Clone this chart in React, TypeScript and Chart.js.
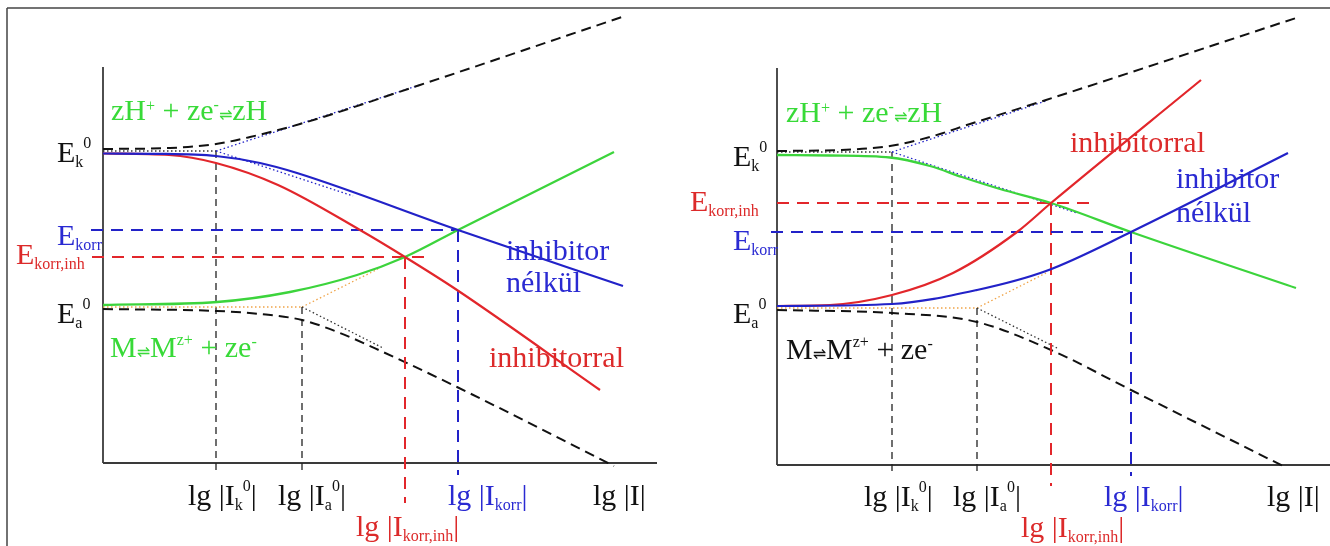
import React, { useEffect, useRef } from "react";
import { Chart, registerables } from "chart.js";
Chart.register(...registerables);

type XY = number[][];
type Part = [string, string, number?];

// Colours
const GREEN = "#3cd43c";
const RED = "#e2262b";
const BLUE = "#2222c8";
const BLACK = "#111111";
const ORANGE = "#f0a448";
const AXIS = "#3a3a3a";
const GREEN_T = "#38da38";
const RED_T = "#dc2a2a";
const BLUE_T = "#2a2ad2";

// ---------------- LEFT PANEL (units: lg|I| to the right, E upward) ----------------
const L_frameLeft: XY = [[-96, 455], [-96, -83]];
const L_frameTop: XY = [[-96, 455], [562, 455]];
const L_axisY: XY = [[0, 0], [0, 396]];
const L_axisX: XY = [[0, 0], [554, 0]];
const L_hTop: XY = [[0, 314], [67, 315], [113, 319], [147, 326], [197, 339], [317, 378], [519, 446]];
const L_hCath: XY = [[0, 309.5], [57, 309.2], [113, 307], [157, 300], [194, 290], [355, 233], [520, 177]];
const L_hCathInh: XY = [[0, 309.5], [66, 308], [113, 300], [175, 278], [257, 233], [302, 206], [354, 173], [497, 73]];
const L_mAnod: XY = [[0, 158], [114, 161], [187, 171], [254, 188], [302, 206], [355, 233], [511, 311]];
const L_mBottom: XY = [[0, 154], [114, 152], [157, 149], [199, 143], [237, 130], [280, 111], [354, 76], [511, -3]];
const L_EkorrH: XY = [[-12, 233], [355, 233]];
const L_EkorrV: XY = [[355, 233], [355, -12]];
const L_EinhH: XY = [[-11, 206], [323, 206]];
const L_EinhV: XY = [[302, 206], [302, -40]];
const L_Ik0V: XY = [[113, 312], [113, -10]];
const L_Ia0V: XY = [[199, 156], [199, -10]];
const L_EkDot: XY = [[0, 312], [113, 312]];
const L_tafelUp: XY = [[113, 312], [317, 378]];
const L_tafelDown: XY = [[113, 312], [250, 267]];
const L_EaDot: XY = [[0, 156], [199, 156]];
const L_tafelAnod: XY = [[199, 156], [275, 194]];
const L_tafelMDown: XY = [[199, 156], [280, 115]];

// ---------------- RIGHT PANEL ----------------
const R_frameTop: XY = [[-112, 457], [553, 457]];
const R_axisY: XY = [[0, 0], [0, 397]];
const R_axisX: XY = [[0, 0], [553, 0]];
const R_hTop: XY = [[0, 314], [63, 315], [113, 319], [153, 328], [193, 341], [269, 365], [519, 447]];
const R_hCath: XY = [[0, 310], [53, 309.5], [113, 307.5], [153, 299], [185, 288], [223, 276], [274, 262], [354, 233], [519, 177]];
const R_mAnodInh: XY = [[0, 159], [53, 160], [115, 170], [176, 192], [240, 233], [274, 262], [424, 385]];
const R_mAnod: XY = [[0, 159], [115, 161], [200, 175], [269, 194], [354, 233], [511, 312]];
const R_mBottom: XY = [[0, 155], [115, 152], [200, 143], [274, 115], [354, 75], [508, -2]];
const R_EkorrH: XY = [[-6, 233], [354, 233]];
const R_EkorrV: XY = [[354, 233], [354, -11]];
const R_EinhH: XY = [[0, 262], [320, 262]];
const R_EinhV: XY = [[274, 262], [274, -21]];
const R_Ik0V: XY = [[115, 313], [115, -10]];
const R_Ia0V: XY = [[200, 157], [200, -10]];
const R_EkDot: XY = [[0, 313], [115, 313]];
const R_tafelUp: XY = [[115, 313], [269, 364]];
const R_tafelDown: XY = [[115, 313], [300, 252]];
const R_EaDot: XY = [[0, 157], [200, 157]];
const R_tafelAnod: XY = [[200, 157], [269, 192]];
const R_tafelMDown: XY = [[200, 157], [280, 117]];

// ---------------- TEXTS ----------------
const T_H: Part[] = [["zH", "n"], ["+", "p", -9], [" + ze", "n"], ["-", "p", -10], ["\u21CC", "a"], ["zH", "n"]];
const T_M: Part[] = [["M", "n"], ["\u21CC", "a"], ["M", "n"], ["z+", "p", -12], [" + ze", "n"], ["-", "p", -10]];
const T_Ek0: Part[] = [["E", "n"], ["k", "b"], ["0", "p", -14]];
const T_Ea0: Part[] = [["E", "n"], ["a", "b"], ["0", "p", -14]];
const T_Ekorr: Part[] = [["E", "n"], ["korr", "b"]];
const T_Einh: Part[] = [["E", "n"], ["korr,inh", "b"]];
const T_inh1: Part[] = [["inhibitor", "n"]];
const T_inh2: Part[] = [["n\u00E9lk\u00FCl", "n"]];
const T_inhral: Part[] = [["inhibitorral", "n"]];
const T_lgIk0: Part[] = [["lg |I", "n"], ["k", "b"], ["0", "p", -14], ["|", "n"]];
const T_lgIa0: Part[] = [["lg |I", "n"], ["a", "b"], ["0", "p", -14], ["|", "n"]];
const T_lgIkorr: Part[] = [["lg |I", "n"], ["korr", "b"], ["|", "n"]];
const T_lgIinh: Part[] = [["lg |I", "n"], ["korr,inh", "b"], ["|", "n"]];
const T_lgI: Part[] = [["lg |I|", "n"]];

type Label = { x: number; y: number; color: string; parts: Part[] };

const L_labels: Label[] = [
  { x: 8, y: 343, color: GREEN_T, parts: T_H },
  { x: -46, y: 301, color: BLACK, parts: T_Ek0 },
  { x: -46, y: 218, color: BLUE_T, parts: T_Ekorr },
  { x: -87, y: 199, color: RED_T, parts: T_Einh },
  { x: -46, y: 140, color: BLACK, parts: T_Ea0 },
  { x: 7, y: 106, color: GREEN_T, parts: T_M },
  { x: 403, y: 203, color: BLUE_T, parts: T_inh1 },
  { x: 403, y: 171, color: BLUE_T, parts: T_inh2 },
  { x: 386, y: 96, color: RED_T, parts: T_inhral },
  { x: 85, y: -42, color: BLACK, parts: T_lgIk0 },
  { x: 175, y: -42, color: BLACK, parts: T_lgIa0 },
  { x: 345, y: -42, color: BLUE_T, parts: T_lgIkorr },
  { x: 490, y: -42, color: BLACK, parts: T_lgI },
  { x: 253, y: -73, color: RED_T, parts: T_lgIinh },
];

const R_labels: Label[] = [
  { x: 9, y: 343, color: GREEN_T, parts: T_H },
  { x: -44, y: 299, color: BLACK, parts: T_Ek0 },
  { x: -87, y: 254, color: RED_T, parts: T_Einh },
  { x: -44, y: 215, color: BLUE_T, parts: T_Ekorr },
  { x: -44, y: 142, color: BLACK, parts: T_Ea0 },
  { x: 9, y: 106, color: BLACK, parts: T_M },
  { x: 293, y: 313, color: RED_T, parts: T_inhral },
  { x: 399, y: 277, color: BLUE_T, parts: T_inh1 },
  { x: 399, y: 243, color: BLUE_T, parts: T_inh2 },
  { x: 87, y: -41, color: BLACK, parts: T_lgIk0 },
  { x: 176, y: -41, color: BLACK, parts: T_lgIa0 },
  { x: 327, y: -41, color: BLUE_T, parts: T_lgIkorr },
  { x: 490, y: -41, color: BLACK, parts: T_lgI },
  { x: 244, y: -72, color: RED_T, parts: T_lgIinh },
];

// ---------------- helpers ----------------
type Sty = { c: string; w: number; d?: number[]; s?: boolean };
const FRAME: Sty = { c: "#444", w: 1.5 };
const AX: Sty = { c: AXIS, w: 1.8 };
const VDASH: Sty = { c: "#222", w: 1.3, d: [7, 5] };
const DOT_K: Sty = { c: "#333", w: 1.3, d: [1.5, 2.5] };
const DOT_B: Sty = { c: BLUE, w: 1.3, d: [1.5, 2.5] };
const DOT_O: Sty = { c: ORANGE, w: 1.3, d: [1.5, 2.5] };
const BDASH: Sty = { c: BLACK, w: 2, d: [10, 6], s: true };
const DASH_R: Sty = { c: RED, w: 2, d: [12, 8] };
const DASH_B: Sty = { c: BLUE, w: 2, d: [12, 8] };
const CUR_G: Sty = { c: GREEN, w: 2.3, s: true };
const CUR_R: Sty = { c: RED, w: 2.2, s: true };
const CUR_B: Sty = { c: BLUE, w: 2.2, s: true };

function makeDatasets(list: [XY, Sty][]) {
  const n = list.length;
  return list.map(([arr, st], i) => ({
    data: arr.map(([x, y]) => ({ x, y })),
    borderColor: st.c,
    borderWidth: st.w,
    borderDash: st.d || [],
    pointRadius: 0,
    fill: false,
    tension: st.s ? 0.4 : 0,
    cubicInterpolationMode: st.s ? "monotone" : "default",
    clip: false as any,
    order: n - i,
  }));
}

function richPlugin(items: Label[]) {
  return {
    id: "richLabels",
    afterDatasetsDraw(chart: any) {
      const ctx: CanvasRenderingContext2D = chart.ctx;
      const xs = chart.scales.x;
      const ys = chart.scales.y;
      ctx.save();
      ctx.textBaseline = "alphabetic";
      ctx.textAlign = "left";
      for (const it of items) {
        let cx = xs.getPixelForValue(it.x);
        const by = ys.getPixelForValue(it.y);
        ctx.fillStyle = it.color;
        for (const [t, k, dy] of it.parts) {
          let font = '30px "Liberation Serif", "Times New Roman", serif';
          let off = 0;
          if (k === "b") { font = '16px "Liberation Serif", serif'; off = 5; }
          else if (k === "p") { font = '16px "Liberation Serif", serif'; off = -11; }
          else if (k === "a") { font = '16px "DejaVu Sans", sans-serif'; off = 0; }
          if (dy !== undefined) off = dy;
          ctx.font = font;
          ctx.fillText(t, cx, by + off);
          cx += ctx.measureText(t).width;
        }
      }
      ctx.restore();
    },
  };
}

type PanelCfg = { xmin: number; xmax: number; ymin: number; ymax: number; lines: [XY, Sty][]; labels: Label[] };

const LEFT: PanelCfg = {
  xmin: -103, xmax: 562, ymin: -83, ymax: 463,
  lines: [
    [L_frameLeft, FRAME], [L_frameTop, FRAME],
    [L_axisY, AX], [L_axisX, AX],
    [L_Ik0V, VDASH], [L_Ia0V, VDASH],
    [L_EkDot, DOT_K], [L_tafelUp, DOT_B], [L_tafelDown, DOT_B],
    [L_EaDot, DOT_O], [L_tafelAnod, DOT_O], [L_tafelMDown, DOT_K],
    [L_hTop, BDASH], [L_mBottom, BDASH],
    [L_EinhH, DASH_R], [L_EinhV, DASH_R], [L_EkorrH, DASH_B], [L_EkorrV, DASH_B],
    [L_mAnod, CUR_G], [L_hCathInh, CUR_R], [L_hCath, CUR_B],
  ],
  labels: L_labels,
};

const RIGHT: PanelCfg = {
  xmin: -112, xmax: 553, ymin: -81, ymax: 465,
  lines: [
    [R_frameTop, FRAME],
    [R_axisY, AX], [R_axisX, AX],
    [R_Ik0V, VDASH], [R_Ia0V, VDASH],
    [R_EkDot, DOT_K], [R_tafelUp, DOT_B], [R_tafelDown, DOT_B],
    [R_EaDot, DOT_O], [R_tafelAnod, DOT_O], [R_tafelMDown, DOT_K],
    [R_hTop, BDASH], [R_mBottom, BDASH],
    [R_EinhH, DASH_R], [R_EinhV, DASH_R], [R_EkorrH, DASH_B], [R_EkorrV, DASH_B],
    [R_hCath, CUR_G], [R_mAnodInh, CUR_R], [R_mAnod, CUR_B],
  ],
  labels: R_labels,
};

function Panel({ cfg }: { cfg: PanelCfg }) {
  const ref = useRef<HTMLCanvasElement>(null);
  useEffect(() => {
    if (!ref.current) return;
    const chart = new Chart(ref.current, {
      type: "line",
      data: { datasets: makeDatasets(cfg.lines) as any },
      options: {
        animation: false,
        responsive: false,
        maintainAspectRatio: false,
        devicePixelRatio: 1,
        events: [],
        layout: { padding: 0 },
        scales: {
          x: { type: "linear", min: cfg.xmin, max: cfg.xmax, display: false },
          y: { type: "linear", min: cfg.ymin, max: cfg.ymax, display: false },
        },
        plugins: { legend: { display: false }, tooltip: { enabled: false }, title: { display: false } },
        elements: { point: { radius: 0 } },
      },
      plugins: [richPlugin(cfg.labels)],
    });
    return () => chart.destroy();
  }, [cfg]);
  return <canvas ref={ref} width={665} height={546} style={{ display: "block", width: 665, height: 546 }} />;
}

export default function App() {
  useEffect(() => {
    document.body.style.margin = "0";
  }, []);
  return (
    <div style={{ position: "absolute", left: 0, top: 0, width: 1330, height: 546, display: "flex", background: "#fff", overflow: "hidden" }}>
      <Panel cfg={LEFT} />
      <Panel cfg={RIGHT} />
    </div>
  );
}
